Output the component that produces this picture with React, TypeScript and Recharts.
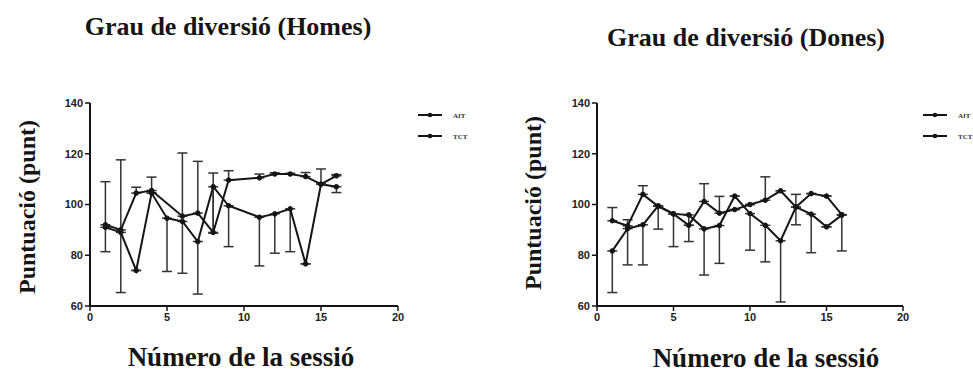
import React from "react";
import { LineChart, Line, XAxis, YAxis, ErrorBar, Legend } from "recharts";

// sessions shared by both panels
const sessions = [1, 2, 3, 4, 5, 6, 7, 8, 9, 10, 11, 12, 13, 14, 15, 16];
const xTicks = [0, 5, 10, 15, 20];
const yTicks = [60, 80, 100, 120, 140];

// Homes: AIT has its error bar below the mean, TCT above
const homesAit = [91, 89, 74, 104.5, 94.6, 93.3, 85.4, 107, 99.5, null, 95, 96.3, 98.3, 76.6, 108, 107];
const homesAitErr = [9.6, 23.7, 0, 0, 21, 20.4, 20.7, 18.3, 16.1, null, 19.2, 15.5, 16.9, 0, 0, 2.3];
const homesTct = [92, 90, 104.5, 105.5, null, 95.4, 96.6, 89, 109.6, null, 110.5, 112, 112, 111, 108, 111.3];
const homesTctErr = [17, 27.6, 2.3, 5.3, null, 24.9, 20.4, 23.4, 3.7, null, 1.5, 0.5, 0.3, 1.6, 6, 0.5];

// Dones
const donesAit = [81.7, 90.5, 92, 99.5, 96.3, 95.9, 90.4, 91.7, 103.3, 96.4, 91.8, 85.7, 99, 96.2, 91.2, 95.8];
const donesAitErr = [16.4, 14.3, 15.8, 9.2, 12.9, 10.5, 18.2, 14.9, 0, 14.4, 14.4, 24.1, 7, 15.2, 0, 14.1];
const donesTct = [93.6, 91.6, 104, 99.3, 96.3, 91.8, 101.2, 96.6, 98, 100, 101.7, 105.4, 99, 104.3, 103.3, 96];
const donesTctErr = [5.2, 2.4, 3.4, 0, 0, 0, 7, 6.6, 0, 0, 9.2, 0, 5, 0, 0, 0];

type Pt = { x: number; y: number; err: [number, number] };

function buildSeries(values: (number | null)[], errs: (number | null)[], dir: "up" | "down"): Pt[] {
  const out: Pt[] = [];
  sessions.forEach((s, i) => {
    const v = values[i];
    if (v == null) return;
    const e = errs[i] ?? 0;
    out.push({ x: s, y: v, err: dir === "down" ? [e, 0] : [0, e] });
  });
  return out;
}

const INK = "#151515";
const serif = "'Liberation Serif', 'Times New Roman', serif";
const tickStyle = { fontSize: 11, fontWeight: 700, fill: "#222", fontFamily: "'Liberation Sans', Arial, sans-serif" };

function LegendBox({ payload }: any) {
  return (
    <svg width={60} height={36}>
      {(payload || []).map((p: any, i: number) => (
        <g key={p.value} transform={`translate(0, ${4 + i * 21})`}>
          <line x1={2} x2={26} y1={0} y2={0} stroke={INK} strokeWidth={2} />
          <circle cx={14} cy={0} r={2.3} fill={INK} />
          <text x={37} y={2.5} fontSize={7} fontWeight={700} fontFamily={serif} fill="#333">
            {p.value}
          </text>
        </g>
      ))}
    </svg>
  );
}

interface PanelProps {
  left: number;
  width: number;
  marginLeft: number;
  marginRight: number;
  ait: Pt[];
  tct: Pt[];
  legendLeft: number;
}

function Panel({ left, width, marginLeft, marginRight, ait, tct, legendLeft }: PanelProps) {
  return (
    <div style={{ position: "absolute", left, top: 0 }}>
      <LineChart width={width} height={372} margin={{ top: 103, right: marginRight, bottom: 36, left: marginLeft }}>
        <XAxis
          type="number"
          dataKey="x"
          domain={[0, 20]}
          ticks={xTicks}
          tick={tickStyle}
          tickSize={5}
          height={30}
          axisLine={{ stroke: INK, strokeWidth: 2 }}
          tickLine={{ stroke: INK, strokeWidth: 1.5 }}
          allowDuplicatedCategory={false}
        />
        <YAxis
          type="number"
          domain={[60, 140]}
          ticks={yTicks}
          tick={tickStyle}
          tickSize={5}
          width={40}
          axisLine={{ stroke: INK, strokeWidth: 2 }}
          tickLine={{ stroke: INK, strokeWidth: 1.5 }}
        />
        <Legend
          layout="vertical"
          align="center"
          verticalAlign="middle"
          content={<LegendBox />}
          wrapperStyle={{ position: "absolute", top: 111, left: legendLeft, width: 60, height: 36 }}
        />
        <Line
          data={ait}
          dataKey="y"
          name="AIT"
          stroke={INK}
          strokeWidth={2}
          dot={{ r: 2.3, fill: INK, stroke: INK, strokeWidth: 1 }}
          isAnimationActive={false}
        >
          <ErrorBar dataKey="err" direction="y" width={5} stroke="#333" strokeWidth={1.5} />
        </Line>
        <Line
          data={tct}
          dataKey="y"
          name="TCT"
          stroke={INK}
          strokeWidth={2}
          dot={{ r: 2.3, fill: INK, stroke: INK, strokeWidth: 1 }}
          isAnimationActive={false}
        >
          <ErrorBar dataKey="err" direction="y" width={5} stroke="#333" strokeWidth={1.5} />
        </Line>
      </LineChart>
    </div>
  );
}

export default function App() {
  const titleStyle = { fontFamily: serif, fontWeight: 700, fill: INK } as const;
  return (
    <div style={{ position: "absolute", left: 0, top: 0, width: 973, height: 372, background: "#fff", overflow: "hidden" }}>
      <Panel
        left={0}
        width={480}
        marginLeft={50}
        marginRight={82}
        ait={buildSeries(homesAit, homesAitErr, "down")}
        tct={buildSeries(homesTct, homesTctErr, "up")}
        legendLeft={416}
      />
      <Panel
        left={490}
        width={483}
        marginLeft={67}
        marginRight={70}
        ait={buildSeries(donesAit, donesAitErr, "down")}
        tct={buildSeries(donesTct, donesTctErr, "up")}
        legendLeft={431}
      />
      <svg width={973} height={372} style={{ position: "absolute", left: 0, top: 0, pointerEvents: "none" }}>
        <text x={228} y={35} textAnchor="middle" fontSize={26} {...titleStyle}>Grau de diversió (Homes)</text>
        <text x={746} y={46} textAnchor="middle" fontSize={26} {...titleStyle}>Grau de diversió (Dones)</text>
        <text transform="translate(35, 207) rotate(-90)" textAnchor="middle" fontSize={24} {...titleStyle}>Puntuació (punt)</text>
        <text transform="translate(541, 203) rotate(-90)" textAnchor="middle" fontSize={24} {...titleStyle}>Puntuació (punt)</text>
        <text x={241} y={366} textAnchor="middle" fontSize={27} {...titleStyle}>Número de la sessió</text>
        <text x={766} y={367} textAnchor="middle" fontSize={27} {...titleStyle}>Número de la sessió</text>
      </svg>
    </div>
  );
}
